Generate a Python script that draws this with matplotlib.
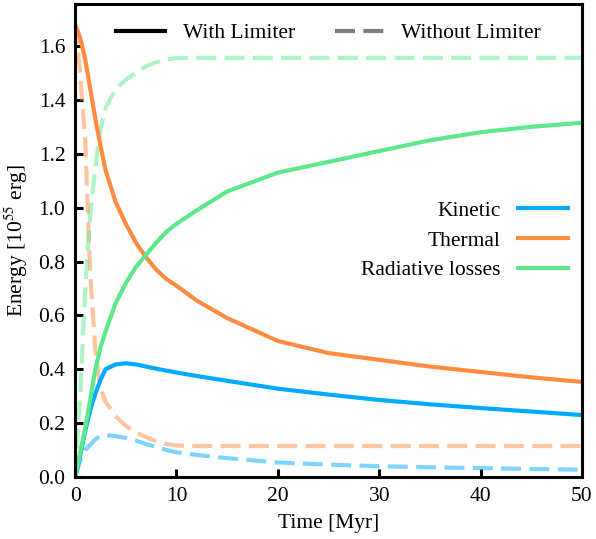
import numpy as np
import matplotlib
matplotlib.use("Agg")
from matplotlib import pyplot as plt
from matplotlib.lines import Line2D

# time grid (Myr)
t = [0, 0.5, 1, 1.5, 2, 2.5, 3, 4, 5, 6, 7, 8, 9, 10, 12, 15, 20, 25, 30, 35, 40, 45, 50]

# with limiter
kin = [0, 0.08, 0.17, 0.25, 0.31, 0.36, 0.40, 0.418, 0.422, 0.418, 0.41, 0.402, 0.395, 0.388, 0.375, 0.357, 0.328, 0.306, 0.286, 0.27, 0.256, 0.243, 0.23]
therm = [1.68, 1.63, 1.55, 1.44, 1.33, 1.23, 1.14, 1.02, 0.94, 0.87, 0.815, 0.77, 0.735, 0.71, 0.655, 0.59, 0.505, 0.46, 0.435, 0.41, 0.39, 0.37, 0.353]
rad = [0, 0.09, 0.18, 0.29, 0.40, 0.48, 0.54, 0.645, 0.72, 0.78, 0.825, 0.87, 0.91, 0.94, 0.99, 1.06, 1.13, 1.17, 1.21, 1.25, 1.28, 1.30, 1.315]

# without limiter
kin_nl = [0, 0.06, 0.1, 0.12, 0.14, 0.153, 0.155, 0.152, 0.145, 0.135, 0.122, 0.112, 0.1, 0.092, 0.082, 0.07, 0.054, 0.046, 0.04, 0.036, 0.033, 0.03, 0.027]
therm_nl = [1.68, 1.5, 1.25, 0.75, 0.47, 0.33, 0.28, 0.225, 0.19, 0.165, 0.148, 0.133, 0.122, 0.117, 0.115, 0.115, 0.115, 0.115, 0.115, 0.115, 0.115, 0.115, 0.115]
rad_nl = [0, 0.3, 0.7, 0.98, 1.15, 1.29, 1.37, 1.44, 1.475, 1.5, 1.525, 1.54, 1.55, 1.555, 1.556, 1.556, 1.556, 1.556, 1.556, 1.556, 1.556, 1.556, 1.556]

labels = ["Kinetic", "Thermal", "Radiative losses"]
colors = ["#00aaff", "#ff8c40", "#5ee88c"]

plt.rcParams['font.family'] = ['Liberation Serif', 'DejaVu Serif']
plt.rcParams['mathtext.fontset'] = 'stix'
plt.rcParams['font.size'] = 15.5

fig = plt.figure(figsize=(5.96, 5.39), dpi=100)
ax = fig.add_axes([0.126, 0.115, 0.8505, 0.8776])

dash = (0, (4.8, 2))
for y, c in zip([kin_nl, therm_nl, rad_nl], colors):
    ax.plot(t, y, color=c, lw=3, ls=dash, alpha=0.5)
for y, c, lab in zip([kin, therm, rad], colors, labels):
    ax.plot(t, y, color=c, lw=3, label=lab)

ax.set_xlim(0, 50)
ax.set_ylim(0, 1.756)
ax.set_xlabel("Time [Myr]", labelpad=6)
ax.set_ylabel("Energy [10$^{55}$ erg]", labelpad=6)
ax.tick_params(direction='in', length=6, width=2.2, pad=7, labelsize=15.5)
for s in ax.spines.values():
    s.set_linewidth(2.2)

leg2 = ax.legend(loc='center right', bbox_to_anchor=(1.01, 0.50), frameon=False,
                 markerfirst=False, handlelength=2.3, labelspacing=0.45)
ax.add_artist(leg2)

h1 = Line2D([], [], color='black', lw=3)
h2 = Line2D([], [], color='black', lw=3, ls=dash, alpha=0.5)
ax.legend([h1, h2], ["With Limiter", "Without Limiter"], loc='upper center',
          bbox_to_anchor=(0.5, 1.0), ncol=2, frameon=False, handlelength=2.3,
          columnspacing=1.85)

fig.savefig("out.png", dpi=100)
